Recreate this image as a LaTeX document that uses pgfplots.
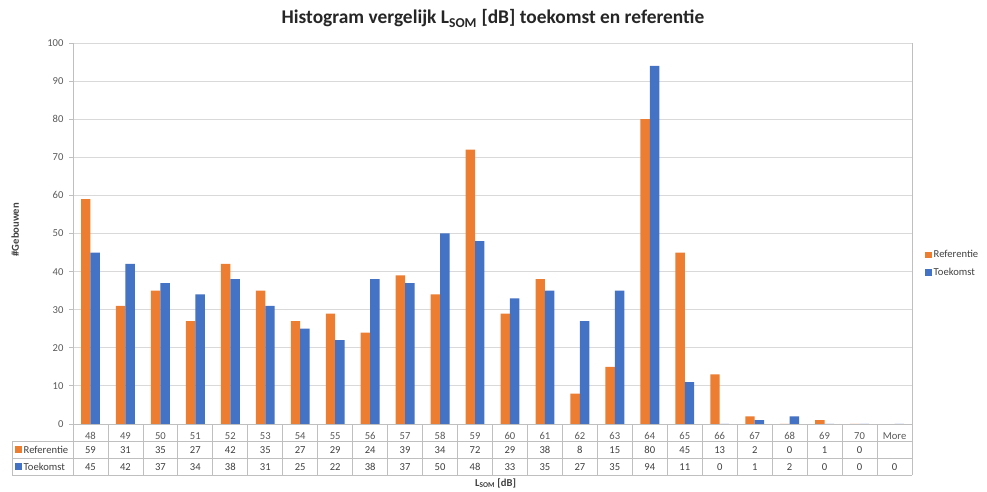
\documentclass[border=0pt]{standalone}
\usepackage{pgfplots}
\pgfplotsset{compat=1.18}
\usepackage{pgfplotstable}
\usepackage{fontspec}
\setmainfont{Carlito}
\definecolor{refc}{HTML}{ED7D31}
\definecolor{toec}{HTML}{4472C4}
\definecolor{gridc}{HTML}{D9D9D9}
\definecolor{linec}{HTML}{BFBFBF}
\definecolor{txtc}{HTML}{595959}
\definecolor{tabtxt}{HTML}{404040}

\pgfplotstableread{
i v
0 59
1 31
2 35
3 27
4 42
5 35
6 27
7 29
8 24
9 39
10 34
11 72
12 29
13 38
14 8
15 15
16 80
17 45
18 13
19 2
20 0
21 1
22 0
}\refdata

\pgfplotstableread{
i v
0 45
1 42
2 37
3 34
4 38
5 31
6 25
7 22
8 38
9 37
10 50
11 48
12 33
13 35
14 27
15 35
16 94
17 11
18 0
19 1
20 2
21 0
22 0
23 0
}\toedata

\newcommand{\sfont}{\fontsize{10.6bp}{12.7bp}\selectfont}

\begin{document}
\begin{tikzpicture}
\useasboundingbox (0,0) rectangle (987bp,492bp);
\begin{axis}[
  at={(73bp,68bp)}, anchor=south west,
  scale only axis, width=839bp, height=381bp,
  clip=false,
  xmin=-0.5, xmax=23.5, ymin=0, ymax=100,
  ytick={0,10,...,100},
  xtick={0,...,23},
  xticklabels={48,49,50,51,52,53,54,55,56,57,58,59,60,61,62,63,64,65,66,67,68,69,70,More},
  /pgf/number format/assume math mode=true,
  ymajorgrids, grid style={gridc, line width=0.8bp},
  axis line style={linec, line width=0.8bp},
  axis x line*=bottom, axis y line*=left,
  tick align=outside,
  major tick length=4bp,
  xtick style={draw=none},
  ytick style={linec, line width=0.8bp},
  ticklabel style={font=\sfont, text=txtc},
  xticklabel style={anchor=base, yshift=-12bp},
  yticklabel style={xshift=-2bp},
  legend style={at={(1.0155,0.462)}, anchor=north west, draw=none, fill=none,
    font=\sfont, text=tabtxt, row sep=5bp, inner sep=0pt},
  legend cell align=left,
  legend image code/.code={\fill[#1] (0bp,-3.5bp) rectangle (6.5bp,3bp);},
  ylabel={\textbf{\#Gebouwen}},
  ylabel style={at={(rel axis cs:-0.069,0.51)}, anchor=center, font=\sfont, text=tabtxt},
]
\addplot[ybar, bar width=0.27, bar shift=-0.135, fill=refc, draw=none] table[x=i, y=v] {\refdata};
\addlegendentry{Referentie}
\addplot[ybar, bar width=0.27, bar shift=0.135, fill=toec, draw=none] table[x=i, y=v] {\toedata};
\addlegendentry{Toekomst}

\addplot[draw=none, mark=none, forget plot, point meta=explicit symbolic,
  nodes near coords, every node near coord/.append style={anchor=base, font=\sfont, text=tabtxt, inner sep=0pt}]
  table[x=i, y expr=-7.69, meta=v] {\refdata};
\addplot[draw=none, mark=none, forget plot, point meta=explicit symbolic,
  nodes near coords, every node near coord/.append style={anchor=base, font=\sfont, text=tabtxt, inner sep=0pt}]
  table[x=i, y expr=-12.15, meta=v] {\toedata};

\node[anchor=base, font=\bfseries\fontsize{19.4bp}{23bp}\selectfont, text=black!85] at (rel axis cs:0.5006,1.0499) {Histogram vergelijk L\textsubscript{SOM} [dB] toekomst en referentie};
\node[anchor=center, font=\bfseries\sfont, text=tabtxt] at (rel axis cs:0.5036,-0.155) {L\textsubscript{SOM} [dB]};
\end{axis}
% data table grid
\begin{scope}[linec, line width=0.8bp]
\draw (12bp,51bp) -- (912bp,51bp);
\draw (12bp,34bp) -- (912bp,34bp);
\draw (12bp,17bp) -- (912bp,17bp);
\draw (12bp,51bp) -- (12bp,17bp);
\foreach \k in {0,...,24} {
  \draw ({(73+34.9583*\k)*1bp},68bp) -- ({(73+34.9583*\k)*1bp},17bp);
}
\draw (912bp,68bp) -- (912bp,449bp);
\end{scope}
\fill[refc] (15bp,39bp) rectangle (21.5bp,45.5bp);
\node[anchor=base west, font=\sfont, text=tabtxt, inner sep=0pt] at (23.5bp,38.7bp) {Referentie};
\fill[toec] (15bp,22bp) rectangle (21.5bp,28.5bp);
\node[anchor=base west, font=\sfont, text=tabtxt, inner sep=0pt] at (23.5bp,21.7bp) {Toekomst};
\end{tikzpicture}
\end{document}
